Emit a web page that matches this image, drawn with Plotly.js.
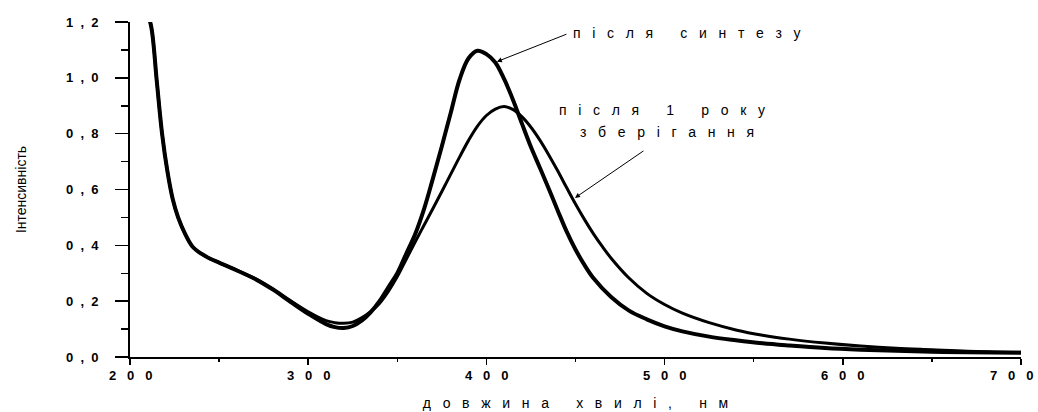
<!DOCTYPE html>
<html>
<head>
<meta charset="utf-8">
<script src="https://cdn.plot.ly/plotly-3.0.1.min.js"></script>
<style>html,body{margin:0;padding:0;background:#fff;}#chart{width:1038px;height:412px;}</style>
</head>
<body>
<div id="chart"></div>
<script>
// Wavelength (nm) and intensity for each curve
var synthX = [209, 212, 215, 218, 221, 224, 227, 231, 235, 240, 245, 250, 260, 270, 280, 290, 300, 310, 315, 320, 325, 330, 335, 340, 345, 350, 355, 360, 365, 370, 375, 380, 385, 390, 395, 400, 405, 410, 415, 420, 425, 430, 435, 440, 445, 450, 455, 460, 470, 480, 490, 500, 510, 525, 540, 555, 570, 590, 610, 630, 650, 670, 700];
var synthY = [1.25, 1.18, 0.99, 0.80, 0.665, 0.565, 0.50, 0.44, 0.396, 0.37, 0.352, 0.338, 0.31, 0.28, 0.242, 0.198, 0.155, 0.118, 0.107, 0.104, 0.111, 0.13, 0.16, 0.2, 0.25, 0.3, 0.37, 0.44, 0.53, 0.64, 0.755, 0.875, 0.995, 1.07, 1.097, 1.085, 1.055, 0.995, 0.92, 0.835, 0.752, 0.678, 0.603, 0.525, 0.45, 0.385, 0.33, 0.283, 0.215, 0.166, 0.135, 0.11, 0.092, 0.073, 0.06, 0.049, 0.041, 0.032, 0.026, 0.022, 0.019, 0.017, 0.015];
var storeX = [209, 212, 215, 218, 221, 224, 227, 231, 235, 240, 245, 250, 260, 270, 280, 290, 300, 310, 315, 320, 325, 330, 335, 340, 345, 350, 355, 360, 365, 370, 375, 380, 385, 390, 395, 400, 405, 410, 415, 420, 425, 430, 435, 440, 445, 450, 455, 460, 465, 470, 480, 490, 500, 510, 525, 540, 555, 570, 590, 610, 630, 650, 670, 700];
var storeY = [1.25, 1.18, 0.99, 0.80, 0.665, 0.565, 0.50, 0.44, 0.396, 0.37, 0.352, 0.338, 0.311, 0.282, 0.245, 0.202, 0.162, 0.13, 0.123, 0.121, 0.125, 0.14, 0.162, 0.192, 0.235, 0.288, 0.35, 0.412, 0.472, 0.532, 0.593, 0.655, 0.717, 0.776, 0.827, 0.865, 0.888, 0.897, 0.886, 0.86, 0.823, 0.777, 0.724, 0.667, 0.607, 0.548, 0.493, 0.442, 0.396, 0.354, 0.283, 0.228, 0.188, 0.157, 0.123, 0.097, 0.078, 0.064, 0.05, 0.039, 0.031, 0.026, 0.021, 0.017];

var xTickVals = [200, 300, 400, 500, 600, 700];
var xTickText = ['200', '300', '400', '500', '600', '700'];
var yTickVals = [0, 0.2, 0.4, 0.6, 0.8, 1.0, 1.2];
var yTickText = ['0,0', '0,2', '0,4', '0,6', '0,8', '1,0', '1,2'];

var NB = '\u00A0';
function spaced(s, gap, wordGap) {
  return s.split(' ').map(function (w) { return w.split('').join(NB.repeat(gap)); }).join(NB.repeat(wordGap));
}

var FONT = 'Liberation Sans, Arial, sans-serif';

var traces = [
  {x: synthX, y: synthY, mode: 'lines', line: {color: '#000', width: 4, shape: 'spline', smoothing: 1}, name: 'після синтезу', showlegend: false},
  {x: storeX, y: storeY, mode: 'lines', line: {color: '#000', width: 3, shape: 'spline', smoothing: 1}, name: 'після 1 року зберігання', showlegend: false}
];

var annotations = [
  {x: 512.6, y: 1.162, xref: 'x', yref: 'y', text: spaced('після синтезу', 3, 7), showarrow: false, font: {family: FONT, size: 14}},
  {x: 498.8, y: 0.886, xref: 'x', yref: 'y', text: spaced('після 1 року', 3, 7), showarrow: false, font: {family: FONT, size: 14}},
  {x: 501.3, y: 0.807, xref: 'x', yref: 'y', text: spaced('зберігання', 3, 7), showarrow: false, font: {family: FONT, size: 14}},
  {x: 405.9, y: 1.058, xref: 'x', yref: 'y', text: '', showarrow: true, ax: 71, ay: -28, arrowhead: 2, arrowsize: 1, arrowwidth: 1, arrowcolor: '#000'},
  {x: 449.7, y: 0.570, xref: 'x', yref: 'y', text: '', showarrow: true, ax: 70, ay: -48, arrowhead: 2, arrowsize: 1, arrowwidth: 1, arrowcolor: '#000'}
];
// x tick labels placed on the x scale (as annotations so the last one is not dropped at the edge)
xTickVals.forEach(function (v, i) {
  var last = (i === xTickVals.length - 1);
  annotations.push({x: v, xref: 'x', y: 0, yref: 'paper', yanchor: 'top', yshift: -9, showarrow: false,
    xanchor: last ? 'right' : 'center', xshift: last ? 14 : 0,
    text: spaced(xTickText[i], 3, 3), font: {family: FONT, size: 13, weight: 'bold'}});
});
// y tick labels placed on the y scale
yTickVals.forEach(function (v, i) {
  annotations.push({x: 0, xref: 'paper', y: v, yref: 'y', xanchor: 'right', xshift: -29, showarrow: false,
    text: spaced(yTickText[i], 2, 2), font: {family: FONT, size: 13, weight: 'bold'}});
});

var layout = {
  width: 1038, height: 412,
  margin: {l: 130, r: 17, t: 22, b: 55, pad: 0},
  paper_bgcolor: '#fff', plot_bgcolor: '#fff',
  font: {family: FONT, color: '#000'},
  xaxis: {
    range: [200, 700], showgrid: false, zeroline: false,
    showline: true, linecolor: '#000', linewidth: 1.5,
    tickvals: xTickVals, showticklabels: false,
    ticks: 'outside', ticklen: 6, tickwidth: 1.5, tickcolor: '#000',
    minor: {dtick: 50, tick0: 200, ticks: 'outside', ticklen: 3, tickwidth: 1.5, tickcolor: '#000'},
    title: {text: spaced('довжина хвилі, нм', 3, 7), font: {family: FONT, size: 14}, standoff: 34}
  },
  yaxis: {
    range: [0, 1.2], showgrid: false, zeroline: false,
    showline: true, linecolor: '#000', linewidth: 2,
    tickvals: yTickVals, showticklabels: false,
    ticks: 'outside', ticklen: 13, tickwidth: 1.5, tickcolor: '#000',
    minor: {dtick: 0.1, tick0: 0, ticks: 'outside', ticklen: 7, tickwidth: 1.5, tickcolor: '#000'},
    title: {text: 'Інтенсивність', font: {family: FONT, size: 14}, standoff: 85}
  },
  annotations: annotations
};

Plotly.newPlot('chart', traces, layout, {displayModeBar: false, staticPlot: true});
</script>
</body>
</html>
